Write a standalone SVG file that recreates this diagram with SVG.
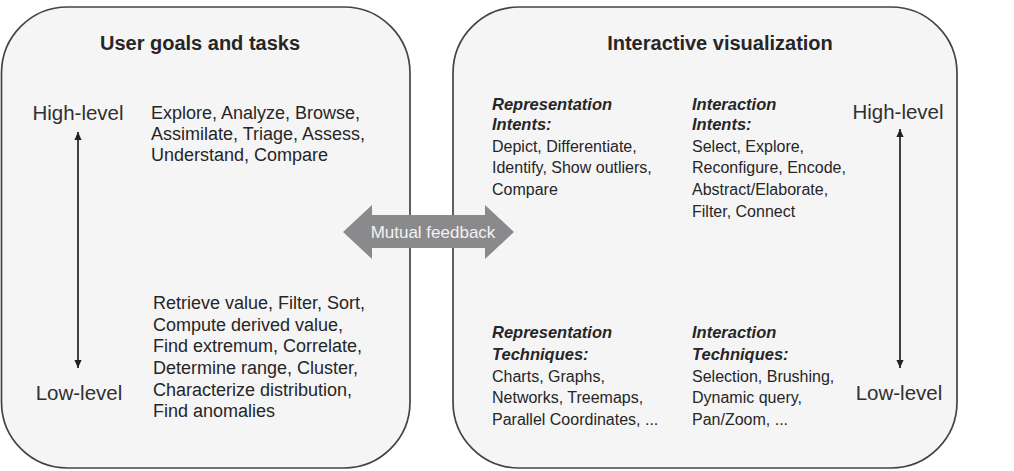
<svg xmlns="http://www.w3.org/2000/svg" width="1014" height="471" viewBox="0 0 1014 471">
<style>
.box{fill:#f5f5f6;stroke:#444;stroke-width:1.7}
text{font-family:"Liberation Sans",Arial,sans-serif;fill:#262626}
.title{font-size:20px;font-weight:bold;text-anchor:middle}
.lvl{font-size:20.5px;text-anchor:middle;fill:#303030}
.body{font-size:18px}
.rb{font-size:16px}
.hd{font-size:16.5px;font-weight:bold;font-style:italic}
.fb{font-size:17px;fill:#f2f2f2;text-anchor:middle}
.vline{stroke:#222;stroke-width:1.7;fill:none}
</style>
<defs>
<marker id="ah" viewBox="0 0 10 10" refX="10" refY="5" markerWidth="8" markerHeight="8" orient="auto-start-reverse" markerUnits="userSpaceOnUse">
<path d="M0,0.5 L10,5 L0,9.5 Z" fill="#222"/>
</marker>
</defs>
<rect width="1014" height="471" fill="#ffffff"/>
<g id="user-goals">
<rect class="box" x="1.5" y="7" width="408.5" height="461" rx="66" ry="66"/>
<text class="title" x="200" y="50">User goals and tasks</text>
<text class="lvl" x="78" y="120">High-level</text>
<text class="lvl" x="79" y="400">Low-level</text>
<text class="body" x="151" y="119">Explore, Analyze, Browse,</text>
<text class="body" x="151" y="140">Assimilate, Triage, Assess,</text>
<text class="body" x="151" y="161">Understand, Compare</text>
<text class="body" x="153" y="309">Retrieve value, Filter, Sort,</text>
<text class="body" x="153" y="331">Compute derived value,</text>
<text class="body" x="153" y="352">Find extremum, Correlate,</text>
<text class="body" x="153" y="374">Determine range, Cluster,</text>
<text class="body" x="153" y="396">Characterize distribution,</text>
<text class="body" x="153" y="417">Find anomalies</text>
</g>
<g id="interactive-vis">
<rect class="box" x="453" y="7" width="504" height="461" rx="66" ry="66"/>
<text class="title" x="720" y="50">Interactive visualization</text>
<text class="lvl" x="898" y="119">High-level</text>
<text class="lvl" x="899" y="400">Low-level</text>
<text class="hd" x="492" y="110">Representation</text>
<text class="hd" x="492" y="130">Intents:</text>
<text class="rb" x="492" y="152">Depict, Differentiate,</text>
<text class="rb" x="492" y="173">Identify, Show outliers,</text>
<text class="rb" x="492" y="195">Compare</text>
<text class="hd" x="692" y="110">Interaction</text>
<text class="hd" x="692" y="130">Intents:</text>
<text class="rb" x="692" y="152">Select, Explore,</text>
<text class="rb" x="692" y="173">Reconfigure, Encode,</text>
<text class="rb" x="692" y="195">Abstract/Elaborate,</text>
<text class="rb" x="692" y="217">Filter, Connect</text>
<text class="hd" x="492" y="338">Representation</text>
<text class="hd" x="492" y="360">Techniques:</text>
<text class="rb" x="492" y="382">Charts, Graphs,</text>
<text class="rb" x="492" y="403">Networks, Treemaps,</text>
<text class="rb" x="492" y="425">Parallel Coordinates, ...</text>
<text class="hd" x="692" y="338">Interaction</text>
<text class="hd" x="692" y="360">Techniques:</text>
<text class="rb" x="692" y="382">Selection, Brushing,</text>
<text class="rb" x="692" y="403">Dynamic query,</text>
<text class="rb" x="692" y="425">Pan/Zoom, ...</text>
</g>
<g id="connectors">
<line class="vline" x1="78" y1="132" x2="78" y2="368" marker-start="url(#ah)" marker-end="url(#ah)"/>
<line class="vline" x1="900" y1="129" x2="900" y2="368" marker-start="url(#ah)" marker-end="url(#ah)"/>
<g id="mutual-feedback">
<path d="M343,232 L372,205 L372,215 L485,215 L485,205 L514,232 L485,259 L485,248 L372,248 L372,259 Z" fill="#8a8a8c"/>
<text class="fb" x="433" y="238">Mutual feedback</text>
</g>
</g>
</svg>
